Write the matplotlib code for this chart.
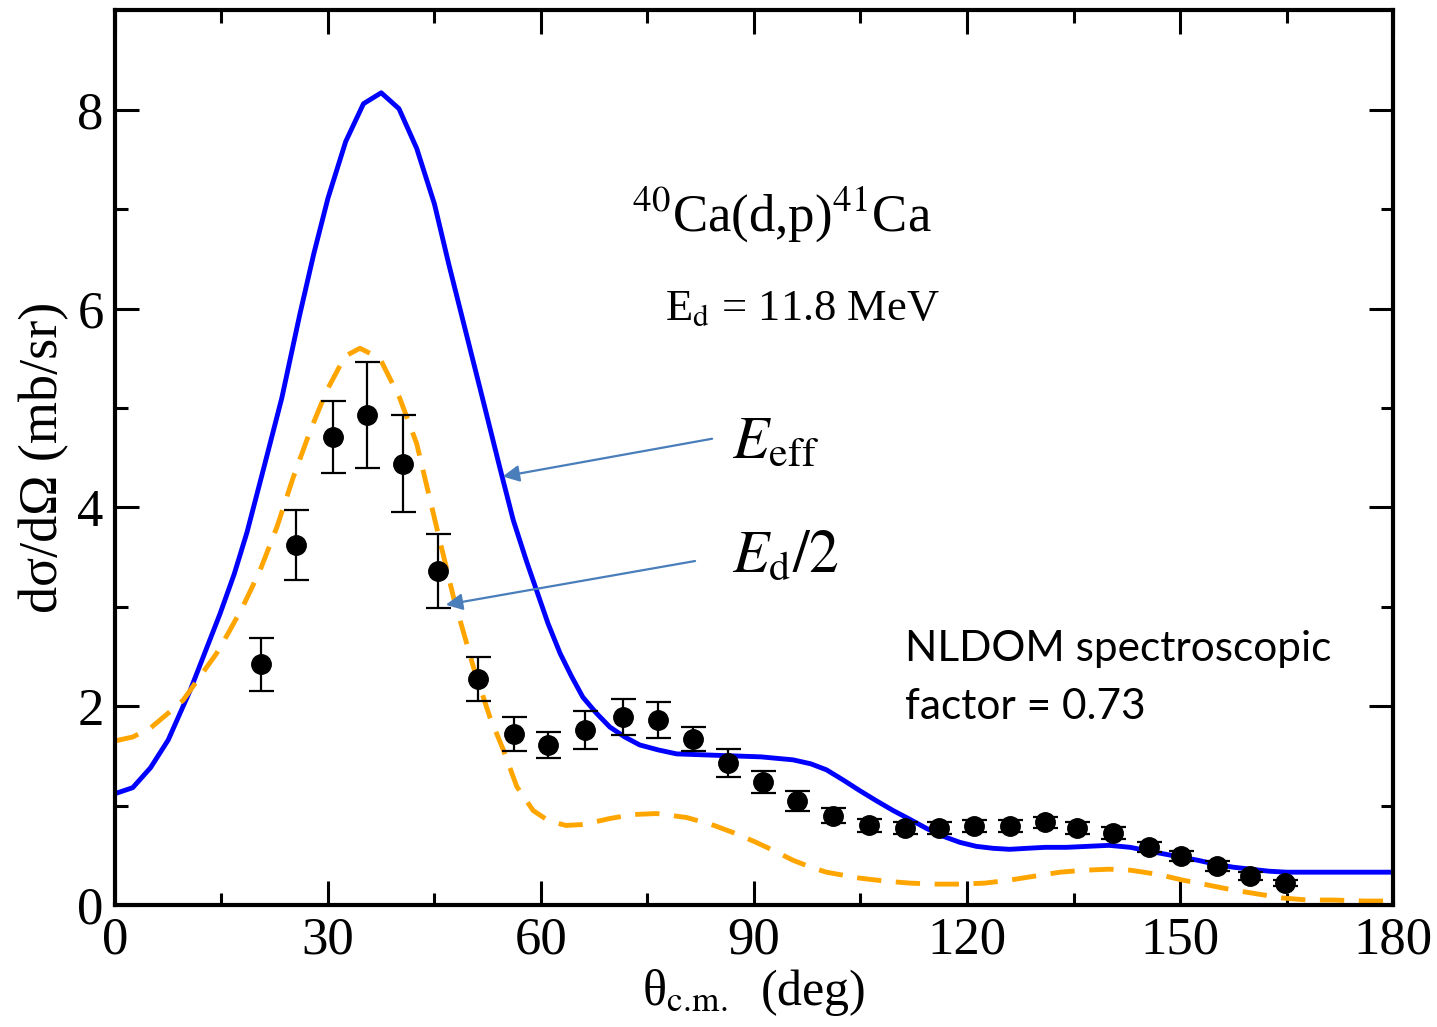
import matplotlib
matplotlib.use("Agg")
import matplotlib.pyplot as plt
import numpy as np

# theory curves
theta_eff = [0, 2.5, 5, 7.5, 10.6, 13, 14.8, 16.8, 18.6, 20.9, 23.5, 26, 28, 30, 32.5, 35,
             37.5, 40, 42.5, 45, 47, 49.5, 52, 54.2, 56.1, 58, 59.4, 61, 62.7, 64.3, 65.9,
             67.8, 69.7, 71.8, 73.9, 76.5, 79.1, 83, 87, 91, 95.5, 98, 100.2, 102.5, 104.9,
             107.2, 109.6, 112, 114.3, 116.7, 119, 121.3, 123.7, 126, 128.4, 131, 134, 137,
             140, 143, 146.5, 149.5, 152.5, 155, 157.5, 160, 162.5, 165, 170, 175, 180]
xs_eff = [1.12, 1.18, 1.38, 1.66, 2.16, 2.60, 2.93, 3.33, 3.75, 4.38, 5.10, 5.93, 6.55, 7.11,
          7.68, 8.06, 8.17, 8.01, 7.61, 7.05, 6.45, 5.74, 5.03, 4.40, 3.87, 3.45, 3.16, 2.83,
          2.53, 2.30, 2.09, 1.93, 1.79, 1.69, 1.61, 1.56, 1.52, 1.51, 1.50, 1.49, 1.46, 1.42,
          1.36, 1.26, 1.15, 1.05, 0.95, 0.86, 0.77, 0.69, 0.63, 0.59, 0.57, 0.56, 0.57, 0.58,
          0.58, 0.59, 0.60, 0.58, 0.53, 0.49, 0.45, 0.41, 0.38, 0.36, 0.34, 0.33, 0.33, 0.33,
          0.33]

theta_half = [0, 2.5, 5, 7.5, 9.6, 12, 14.3, 16, 18, 20.4, 22.8, 25.1, 27.5, 29.8, 32.4, 34.5,
              37.3, 40.1, 42.5, 44.4, 45.3, 47.7, 50.5, 52.8, 54.7, 56.6, 58.9, 61, 63.5, 66,
              69.7, 73, 76.3, 80.5, 84, 87, 90, 92.7, 95.5, 98, 100.2, 104.9, 108.5, 112,
              115.5, 119, 122.5, 126, 129.5, 133.1, 136.5, 140, 143, 145.8, 148, 150.4, 154,
              157.5, 161, 164.5, 168, 171.5, 176, 180]
xs_half = [1.65, 1.69, 1.78, 1.93, 2.06, 2.30, 2.53, 2.74, 3.00, 3.36, 3.80, 4.30, 4.77, 5.17,
           5.52, 5.60, 5.50, 5.10, 4.64, 4.07, 3.80, 3.09, 2.39, 1.89, 1.56, 1.19, 0.95, 0.85,
           0.80, 0.81, 0.87, 0.91, 0.92, 0.88, 0.81, 0.73, 0.64, 0.55, 0.45, 0.38, 0.33, 0.27,
           0.24, 0.22, 0.21, 0.21, 0.22, 0.25, 0.29, 0.33, 0.35, 0.36, 0.35, 0.32, 0.29, 0.25,
           0.20, 0.15, 0.11, 0.07, 0.05, 0.05, 0.04, 0.04]

# experimental data
theta_exp = [20.5, 25.5, 30.7, 35.5, 40.6, 45.5, 51.2, 56.2, 61, 66.2, 71.5, 76.5, 81.4, 86.3,
             91.3, 96.1, 101.1, 106.2, 111.3, 116.1, 121, 126, 131, 135.5, 140.6, 145.6,
             150.2, 155.2, 159.8, 164.8]
xs_exp = [2.42, 3.62, 4.71, 4.93, 4.44, 3.36, 2.27, 1.72, 1.61, 1.76, 1.89, 1.86, 1.67, 1.43,
          1.24, 1.05, 0.90, 0.80, 0.77, 0.77, 0.79, 0.79, 0.83, 0.77, 0.72, 0.58, 0.49, 0.39,
          0.29, 0.22]
err_exp = [0.27, 0.35, 0.36, 0.53, 0.49, 0.37, 0.22, 0.17, 0.13, 0.19, 0.18, 0.18, 0.12, 0.14,
           0.11, 0.10, 0.08, 0.07, 0.06, 0.06, 0.06, 0.06, 0.06, 0.06, 0.06, 0.05, 0.05, 0.05,
           0.04, 0.03]

plt.rcParams['font.family'] = ['Liberation Serif', 'DejaVu Serif']
plt.rcParams['mathtext.fontset'] = 'stix'

fig = plt.figure(figsize=(14.37, 10.27), dpi=100)
ax = fig.add_axes([0.080, 0.1188, 0.8894, 0.8712])

ax.plot(theta_eff, xs_eff, color='#0000ff', lw=3.5)
ax.plot(theta_half, xs_half, color='#ffa500', lw=3.5, dashes=(5, 3))
ax.errorbar(theta_exp, xs_exp, yerr=err_exp, fmt='o', color='black', ms=14,
            elinewidth=1.6, capsize=9, capthick=1.6, zorder=5)

ax.set_xlim(0, 180)
ax.set_ylim(0, 9)
ax.set_xticks(np.arange(0, 181, 30))
ax.set_xticks(np.arange(15, 180, 30), minor=True)
ax.set_yticks([0, 2, 4, 6, 8])
ax.set_yticks([1, 3, 5, 7], minor=True)
ax.tick_params(which='both', direction='in', top=True, right=True, width=2.2, labelsize=38)
ax.tick_params(which='major', length=17, pad=8)
ax.tick_params(which='minor', length=9)
for s in ax.spines.values():
    s.set_linewidth(3)

ax.set_xlabel(r'θ$_{\rm c.\!m.}$  (deg)', fontsize=36, labelpad=2)
ax.set_ylabel('dσ/dΩ (mb/sr)', fontsize=39, labelpad=6)

ax.text(94, 6.95, r'$^{40}$Ca(d,p)$^{41}$Ca', fontsize=38, ha='center', va='center')
ax.text(96.8, 6.0, r'E$_{\rm d}$ = 11.8 MeV', fontsize=32, ha='center', va='center')

ax.text(86.9, 4.5, r'$E_{\rm eff}$', fontsize=43, ha='left', va='baseline')
ax.text(86.9, 3.35, r'$E_{\rm d}/2$', fontsize=43, ha='left', va='baseline')

arrow_kw = dict(arrowstyle='-|>', color='#4a7ebb', lw=1.6, mutation_scale=25,
                shrinkA=0, shrinkB=0)
ax.annotate('', xy=(54.6, 4.31), xytext=(84.1, 4.69), arrowprops=arrow_kw)
ax.annotate('', xy=(46.6, 3.02), xytext=(81.7, 3.46), arrowprops=arrow_kw)

note_font = dict(fontsize=30.5, family=['Lato', 'DejaVu Sans'], ha='left', va='baseline')
ax.text(111.3, 2.45, 'NLDOM spectroscopic', **note_font)
ax.text(111.3, 1.87, 'factor = 0.73', **note_font)

fig.savefig('out.png', dpi=100)
